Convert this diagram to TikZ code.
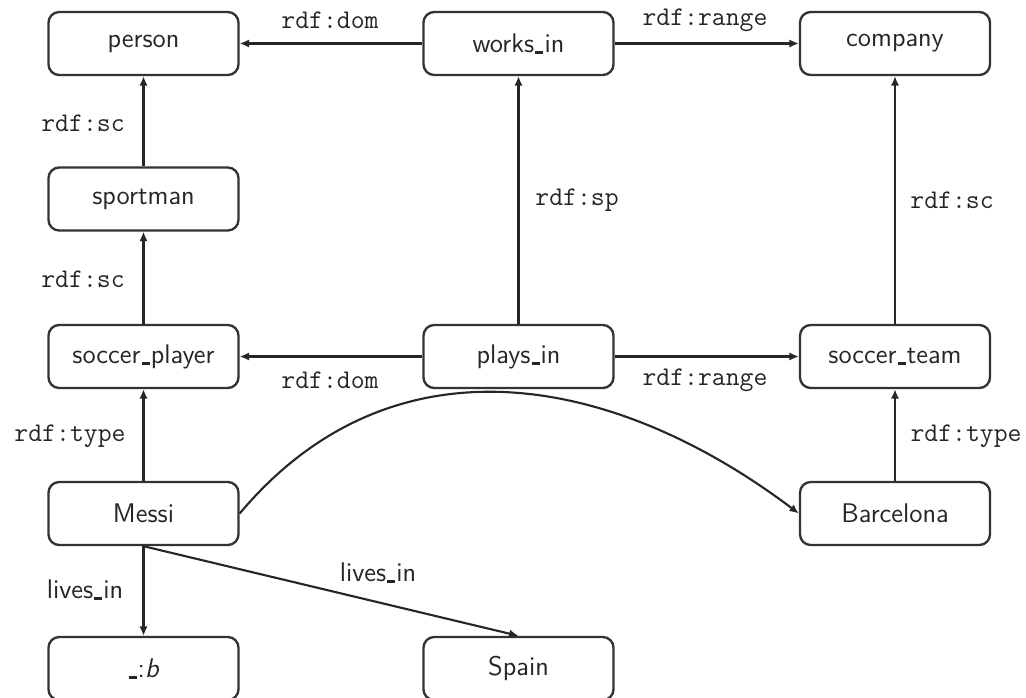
\documentclass[tikz,border=0pt]{standalone}
\usetikzlibrary{arrows.meta}
\newcommand\myus{\leavevmode\kern.04em\rule[-0.06em]{0.3em}{0.11em}\kern.04em}
\begin{document}
\begin{tikzpicture}[x=0.015cm,y=-0.015cm,
  box/.style={draw=black!80, line width=1pt, rounded corners=0.16cm, minimum width=2.85cm, minimum height=0.945cm, font=\fontsize{11.5}{14}\selectfont\sffamily, inner sep=0pt, text=black!85},
  rel/.style={draw=black!85, line width=0.9pt, -{Latex[length=4pt,width=3.5pt]}},
  lab/.style={font=\fontsize{11.5}{14}\selectfont\ttfamily, inner sep=0pt, text=black!85},
  slab/.style={font=\fontsize{11.5}{14}\selectfont\sffamily, inner sep=0pt, text=black!85}]
\clip (0,0) rectangle (1026,697);
\fill[white] (0,0) rectangle (1026,697);
% nodes
\node[box] (person) at (143.5,43.5) {person};
\node[box] (works) at (518.5,43.5) {works\myus in};
\node[box] (company) at (895,43.5) {company};
\node[box] (sportman) at (143.5,199) {sportman};
\node[box] (player) at (143.5,356.5) {soccer\myus player};
\node[box] (plays) at (518.5,356.5) {plays\myus in};
\node[box] (team) at (895,356.5) {soccer\myus team};
\node[box] (messi) at (143.5,513.5) {Messi};
\node[box] (barca) at (895,513.5) {Barcelona};
\node[box] (blank) at (143.5,668.5) {\myus:\textit{b}};
\node[box] (spain) at (518.5,668.5) {Spain};
% edges
\draw[rel] (works) -- (person);
\draw[rel] (works) -- (company);
\draw[rel] (sportman) -- (person);
\draw[rel] (player) -- (sportman);
\draw[rel] (plays) -- (works);
\draw[rel] (team) -- (company);
\draw[rel] (plays) -- (player);
\draw[rel] (plays) -- (team);
\draw[rel] (messi) -- (player);
\draw[rel] (barca) -- (team);
\draw[rel] (messi.south) -- (blank.north);
\draw[rel] (messi.south) -- (spain.north);
\draw[rel] (messi.east) to[out=50,in=143,looseness=1.08] (barca.west);
% labels
\node[lab] (l1) at (330,20) {rdf:dom};
\node[lab] (l2) at (705,20) {rdf:range};
\node[lab] (l3) at (83,123) {rdf:sc};
\node[lab] (l4) at (83,279) {rdf:sc};
\node[lab] (l5) at (70,436) {rdf:type};
\node[lab] (l6) at (577,200) {rdf:sp};
\node[lab] (l7) at (952,200) {rdf:sc};
\node[lab] (l8) at (330,380) {rdf:dom};
\node[lab] (l9) at (705,380) {rdf:range};
\node[lab] (l10) at (966,436) {rdf:type};
\node[slab] (l11) at (85,590) {lives\myus in};
\node[slab] (l12) at (378,573) {lives\myus in};
\end{tikzpicture}
\end{document}
